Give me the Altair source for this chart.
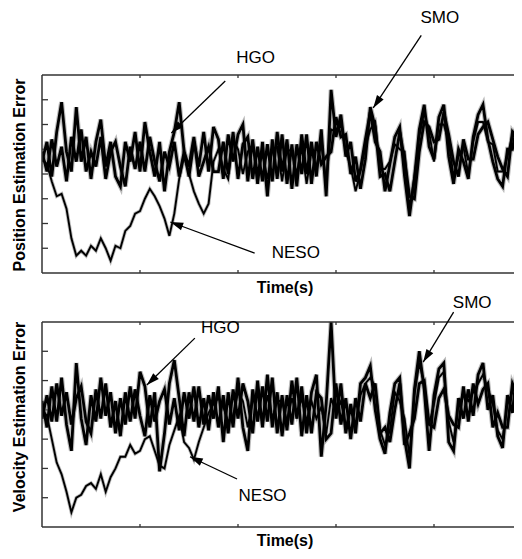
import math
import altair as alt
import pandas as pd

TIME_STEP = 0.05
SERIES = ["HGO", "SMO", "NESO"]

# ---- top panel: position estimation error (arbitrary units) ----
TOP_HGO = [0, 8, -6, 12, 24, 4, -4, 22, 0, 10, -7, 8, 17, -2, 8, -6, -10, 8, 0, 12, -4, 16, 4, -6, 8, -12, 4, 12, 24, 4, -6, 8, -2, 12, -4, 14,
           9, -7, 11, 0, 11, 15, -8, 9, -9, 8, -14, 9, -7, 11, -9, 7, -10, 11, -5, 8, -6, 13, -14, 29, 10, 19, 2, 8, -8, -3, 9, 20, 8, 4,
           -12, -1, 10, 14, -6, -22, -7, 13, 23, 6, 1, 18, 23, 2, -9, 5, 0, -7, 10, 19, 23, 9, 0, -7, -10, 5, 5, 16, 20]
TOP_SMO = [4, -4, 9, -2, 6, -8, 10, 0, 13, -4, 4, -2, 10, -7, 4, 8, -2, -10, 6, -3, 8, -4, 10, 0, -8, 4, -2, 8, -6, 4, -2, 10, -6, 0, 6, -4,
           -4, 8, -5, 12, -7, 7, 10, -7, 6, -8, 7, -8, 12, -4, 9, -11, 7, -5, 11, -9, 8, -1, 2, 4, 18, 10, 11, -5, 2, -11, 1, 22, 14, -6,
           -5, -12, 0, 12, 1, -14, -15, 4, 16, 14, 8, 9, 20, 11, 0, -6, 9, 1, 1, 11, 14, 16, 9, 2, -3, -6, 12, 9, 13]
TOP_NESO = [1, -1, -8, -14, -13, -19, -31, -38, -36, -38, -34, -36, -31, -35, -40, -34, -35, -28, -26, -21, -20, -15, -11, -14, -18, -23, -30, -21, -7, 2, -5, -12, -17, -21, -17, 0,
            5, -3, -7, 9, 5, -5, 4, 7, -4, 3, -7, 5, 6, -8, 5, 4, -5, 6, -9, 4, -2, 7, -8, 13, 12, 15, 4, -2, -12, -4, 6, 13, 16, -3,
            -3, 0, 7, 5, 4, -19, -6, 10, 20, 12, 0, 15, 15, 8, -6, 2, 6, -5, 8, 16, 16, 8, 7, -4, -4, 2, 11, 14, 18]

# ---- bottom panel: velocity estimation error (arbitrary units) ----
BOT_HGO = [3, -6, 8, -4, 11, -5, -14, 16, -3, -12, 5, -4, 11, -2, 6, -8, 4, -5, 8, -3, 13, 8, -6, 6, -21, -8, 9, 17, 4, -9, 6, -4, 8, -5, 5, -3,
           8, -11, 6, -6, 11, -6, -14, 7, -4, 8, -4, 11, -8, 5, -7, 10, -3, 8, -8, 6, 12, -16, 2, 30, -3, 9, -8, 2, -8, 9, 11, 15, 0, -10,
           -15, -1, 9, 11, -10, -20, 7, 20, 7, -14, 5, 14, 16, -11, -14, 4, -3, 7, -2, 12, 16, 0, 5, -9, -13, 5, -1, 15, 7]
BOT_SMO = [-3, 5, -4, 9, -2, 6, -5, 4, 8, -4, -8, 7, -3, 9, -6, 3, -9, 6, -4, 7, -2, -9, 5, -4, 3, 7, -5, 4, -7, 6, -3, 8, -6, 4, -7, 6,
           -6, 5, -8, 7, -3, 9, 3, -8, 10, -6, 12, -6, 6, -9, 5, -5, 11, -9, 5, -8, 6, 4, -10, -8, 9, -5, 4, -10, 4, -4, 9, 4, 9, -8,
           -6, -11, 0, 9, -12, -8, -3, 9, 10, -5, -6, 4, 7, -2, -5, -6, 8, -4, 9, 2, 7, 9, -6, -1, -6, -6, 9, 5, 0]
BOT_NESO = [0, -2, -10, -18, -22, -28, -35, -30, -29, -26, -25, -27, -22, -28, -23, -20, -16, -16, -12, -15, -14, -10, -9, -14, -19, -20, -12, -7, -2, -11, -13, -17, -11, -6, -1, 2,
            4, 1, -4, -2, 6, 3, -6, 3, 5, -5, 5, -3, 3, 3, -4, 4, -2, 4, -4, 3, -3, 1, -8, 4, -1, 3, -6, 0, -5, 5, 9, 11, 8, -7,
            -12, -7, 6, 3, -3, -16, 5, 16, 9, -5, 2, 11, 13, -4, -11, 2, 5, 3, 6, 9, 12, 7, 2, -7, -10, 2, 6, 12, 8]

X_TICKS = [1, 2, 3, 4]
TOP_Y_DOMAIN = [-45, 35]
TOP_Y_TICKS = [-35, -25, -15, -5, 5, 15, 25]
BOT_Y_DOMAIN = [-40, 30]
BOT_Y_TICKS = [-30, -20, -10, 0, 10, 20]

# annotations (data coordinates)
TOP_LABEL_TEXT = ["SMO", "HGO", "NESO"]
TOP_LABEL_T = [4.06, 2.18, 2.59]
TOP_LABEL_V = [58, 42, -37]
TOP_ARROW_T0 = [3.87, 1.87, 2.17]
TOP_ARROW_V0 = [51, 32.6, -37]
TOP_ARROW_T1 = [3.38, 1.32, 1.31]
TOP_ARROW_V1 = [21.7, 11.6, -24.4]

BOT_LABEL_TEXT = ["HGO", "SMO", "NESO"]
BOT_LABEL_T = [1.82, 4.39, 2.25]
BOT_LABEL_V = [28, 36.5, -29.4]
BOT_ARROW_T0 = [1.56, 4.2, 1.99]
BOT_ARROW_V0 = [24.5, 33.4, -23.6]
BOT_ARROW_T1 = [1.07, 3.89, 1.51]
BOT_ARROW_V1 = [8.5, 16.3, -16]

# ---- layout (pixels) ----
W = 472            # plot width
H = 452            # both panels incl. gap
TOP_H = 198
GAP = 49
BOT_H = 205
BOT_Y0 = TOP_H + GAP
PX_PER_T = 98.0
X_DOMAIN = [0, W / PX_PER_T]

FONT = "Liberation Sans"
FRAME = "#333333"
ARROW_PATH = "M0,0L1,3.2L-1,3.2Z"
CORE_WIDTH = {"HGO": 2.8, "SMO": 2.8, "NESO": 1.9}
GLOW_WIDTH = {"HGO": 5.0, "SMO": 5.0, "NESO": 3.6}


def panel_layers(hgo, smo, neso, ydom, yticks, y0, ph, ltext, lt, lv, at0, av0, at1, av1):
    """Layers for one panel; its y scale maps ydom onto rows y0..y0+ph of the plot."""
    pxv = ph / (ydom[1] - ydom[0])
    bottom_px = H - (y0 + ph)
    full_dom = [ydom[0] - bottom_px / pxv, ydom[0] + (H - bottom_px) / pxv]
    ys = alt.Scale(domain=full_dom, nice=False, zero=False)
    xs = alt.Scale(domain=X_DOMAIN, nice=False, zero=False)

    def X(f):
        return alt.X(f"{f}:Q", scale=xs, axis=None)

    def Y(f):
        return alt.Y(f"{f}:Q", scale=ys, axis=None)

    out = []
    ytk = alt.Chart(pd.DataFrame({"v": yticks})).mark_rule(color=FRAME, strokeWidth=1.3).encode(
        y=Y("v"), x=alt.value(0), x2=alt.value(6))
    tdf = pd.DataFrame({"t": X_TICKS})
    ttop = alt.Chart(tdf).mark_rule(color=FRAME, strokeWidth=1.3).encode(
        x=X("t"), y=alt.value(y0), y2=alt.value(y0 + 3))
    tbot = alt.Chart(tdf).mark_rule(color=FRAME, strokeWidth=1.3).encode(
        x=X("t"), y=alt.value(y0 + ph - 3), y2=alt.value(y0 + ph))
    out += [ytk, ttop, tbot]

    frames = []
    for name, vals in zip(SERIES, [hgo, smo, neso]):
        frames.append(pd.DataFrame({"t": [round(i * TIME_STEP, 3) for i in range(len(vals))],
                                    "v": vals, "series": name}))
    for name, sdf in zip(SERIES, frames):
        out.append(alt.Chart(sdf).mark_line(color="#7a7a7a", strokeWidth=GLOW_WIDTH[name],
                                            opacity=0.5, clip=True).encode(x=X("t"), y=Y("v")))
    for name, sdf in zip(SERIES, frames):
        out.append(alt.Chart(sdf).mark_line(color="black", strokeWidth=CORE_WIDTH[name],
                                            clip=True).encode(x=X("t"), y=Y("v")))

    one = pd.DataFrame({"k": [0]})
    frame_top = alt.Chart(one).mark_rule(color=FRAME, strokeWidth=1.5).encode(
        x=alt.value(0), x2=alt.value(W), y=alt.value(y0))
    frame_bot = alt.Chart(one).mark_rule(color=FRAME, strokeWidth=1.5).encode(
        x=alt.value(0), x2=alt.value(W), y=alt.value(y0 + ph))
    frame_left = alt.Chart(one).mark_rule(color=FRAME, strokeWidth=1.5).encode(
        x=alt.value(0), y=alt.value(y0), y2=alt.value(y0 + ph))
    out += [frame_top, frame_bot, frame_left]

    angs = []
    for a, b, c, d in zip(at0, av0, at1, av1):
        dx = (c - a) * PX_PER_T
        dy = -(d - b) * pxv
        angs.append(math.degrees(math.atan2(dx, -dy)) % 360)
    adf = pd.DataFrame({"t0": at0, "v0": av0, "t1": at1, "v1": av1, "ang": angs})
    shafts = alt.Chart(adf).mark_rule(color="black", strokeWidth=1.3).encode(
        x=X("t0"), y=Y("v0"), x2="t1:Q", y2="v1:Q")
    heads = alt.Chart(adf).mark_point(shape=ARROW_PATH, filled=True, size=64,
                                      color="black", opacity=1, strokeWidth=0).encode(
        x=X("t1"), y=Y("v1"), angle=alt.Angle("ang:Q", scale=None))
    ldf = pd.DataFrame({"label": ltext, "t": lt, "v": lv})
    labels = alt.Chart(ldf).mark_text(font=FONT, fontSize=17, color="black").encode(
        x=X("t"), y=Y("v"), text="label:N")
    out += [shafts, heads, labels]
    return out


def title_text(text, x, y, angle, baseline):
    return alt.Chart(pd.DataFrame({"label": [text]})).mark_text(
        font=FONT, fontSize=16, fontWeight="bold", color="black", angle=angle,
        align="center", baseline=baseline).encode(
        x=alt.value(x), y=alt.value(y), text="label:N")


layers = []
layers += panel_layers(TOP_HGO, TOP_SMO, TOP_NESO, TOP_Y_DOMAIN, TOP_Y_TICKS, 0, TOP_H,
                       TOP_LABEL_TEXT, TOP_LABEL_T, TOP_LABEL_V,
                       TOP_ARROW_T0, TOP_ARROW_V0, TOP_ARROW_T1, TOP_ARROW_V1)
layers += panel_layers(BOT_HGO, BOT_SMO, BOT_NESO, BOT_Y_DOMAIN, BOT_Y_TICKS, BOT_Y0, BOT_H,
                       BOT_LABEL_TEXT, BOT_LABEL_T, BOT_LABEL_V,
                       BOT_ARROW_T0, BOT_ARROW_V0, BOT_ARROW_T1, BOT_ARROW_V1)
layers += [
    title_text("Position Estimation Error", -17, TOP_H / 2 + 1, 270, "alphabetic"),
    title_text("Velocity Estimation Error", -17, BOT_Y0 + 95, 270, "alphabetic"),
    title_text("Time(s)", 243, TOP_H + 20, 0, "alphabetic"),
    title_text("Time(s)", 243, H + 19, 0, "alphabetic"),
]

chart = alt.layer(*layers).resolve_scale(y="independent").properties(
    width=W, height=H,
    autosize=alt.AutoSizeParams(type="none"),
    padding={"left": 34, "top": 67, "right": 0, "bottom": 24},
    background="white",
).configure_view(stroke=None)

chart.save("out.html", embed_options={"renderer": "svg", "actions": False})
